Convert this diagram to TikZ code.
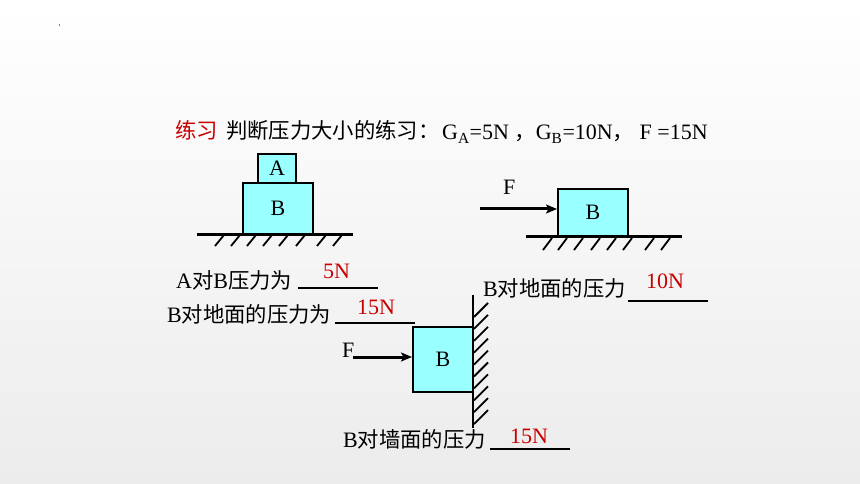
\documentclass[tikz,border=0pt]{standalone}
\usepackage{fontspec}
\setmainfont{Liberation Serif}
\newfontfamily\cjkfont[Scale=0.97]{Noto Sans CJK SC}
\usetikzlibrary{arrows.meta}
\definecolor{cyanfill}{RGB}{153,255,255}
\definecolor{ansred}{RGB}{200,0,0}
\definecolor{bgbot}{RGB}{236,236,236}
\newcommand{\cj}[1]{{\cjkfont #1}}
\begin{document}
\begin{tikzpicture}[x=1pt,y=-1pt,
  blk/.style={draw=black,line width=2pt,fill=cyanfill,inner sep=0pt,font=\fontsize{22}{26}\selectfont},
  txt/.style={inner sep=0pt,anchor=base west,font=\fontsize{22}{26}\selectfont},
  ans/.style={txt,text=ansred},
  ground/.style={line width=3pt},
  hatch/.style={line width=1.8pt},
  uline/.style={line width=1.7pt},
  force/.style={line width=3pt,-{Stealth[length=11pt,width=9pt,inset=2.5pt]}}]
\useasboundingbox (0,0) rectangle (860,484);
\shade[top color=white,bottom color=bgbot] (0,0) rectangle (860,484);
\fill[gray] (59,24.5) rectangle (60,26.5);

% title
\node[txt,text=ansred] (t1) at (175,139) {\cj{练习}};
\node[txt] (t2) at (226,139) {\cj{判断压力大小的练习：}};
\node[txt] (t3) at (442,140) {G\textsubscript{A}=5N \cj{，}G\textsubscript{B}=10N\cj{，}\ F =15N};

% figure 1
\node[blk,minimum width=70pt,minimum height=51pt] (B1) at (278,208.5) {B};
\node[blk,minimum width=38pt,minimum height=29pt] (A1) at (277,168.5) {A};
\coordinate (g1l) at (197,234);
\coordinate (g1r) at (353,234);
\draw[ground] (g1l) -- (g1r);
\foreach \x in {215,231,247,263,279,296,317,333}
  \draw[hatch] (\x,246) -- ++(9,-11);

% figure 2
\node[blk,minimum width=70pt,minimum height=47pt] (B2) at (593,212.5) {B};
\coordinate (g2l) at (526,236.5);
\coordinate (g2r) at (682,236.5);
\draw[ground] (g2l) -- (g2r);
\foreach \x in {543,558,574,591,607,623,645,661}
  \draw[hatch] (\x,250) -- ++(9,-12);
\coordinate (f2s) at (480,209);
\draw[force] (f2s) -- (f2s -| B2.west);
\node[txt] (F2) at (503,195) {F};

% figure 3
\node[blk,minimum width=60pt,minimum height=65pt] (B3) at (443,359.5) {B};
\coordinate (w3t) at (473,295);
\coordinate (w3b) at (473,428);
\draw[line width=2.5pt] (w3t) -- (w3b);
\foreach \k in {0,...,9}
  \draw[hatch] (474,{317+11.9*\k}) -- ++(14,-14);
\coordinate (f3s) at (353,357);
\draw[force] (f3s) -- (f3s -| B3.west);
\node[txt] (F3) at (342,357) {F};

% questions
\node[txt] (q1) at (176,288) {A\cj{对}B\cj{压力为}};
\coordinate (u1l) at (298,288); \coordinate (u1r) at (378,288);
\draw[uline] (u1l) -- (u1r);
\node[ans] (a1) at (323,278) {5N};

\node[txt] (q2) at (167,322) {B\cj{对地面的压力为}};
\coordinate (u2l) at (335,323); \coordinate (u2r) at (415,323);
\draw[uline] (u2l) -- (u2r);
\node[ans] (a2) at (357,314) {15N};

\node[txt] (q3) at (483,296) {B\cj{对地面的压力}};
\coordinate (u3l) at (628,301); \coordinate (u3r) at (708,301);
\draw[uline] (u3l) -- (u3r);
\node[ans] (a3) at (646,288) {10N};

\node[txt] (q4) at (343,447) {B\cj{对墙面的压力}};
\coordinate (u4l) at (490,449); \coordinate (u4r) at (570,449);
\draw[uline] (u4l) -- (u4r);
\node[ans] (a4) at (510,443) {15N};
\end{tikzpicture}
\end{document}
